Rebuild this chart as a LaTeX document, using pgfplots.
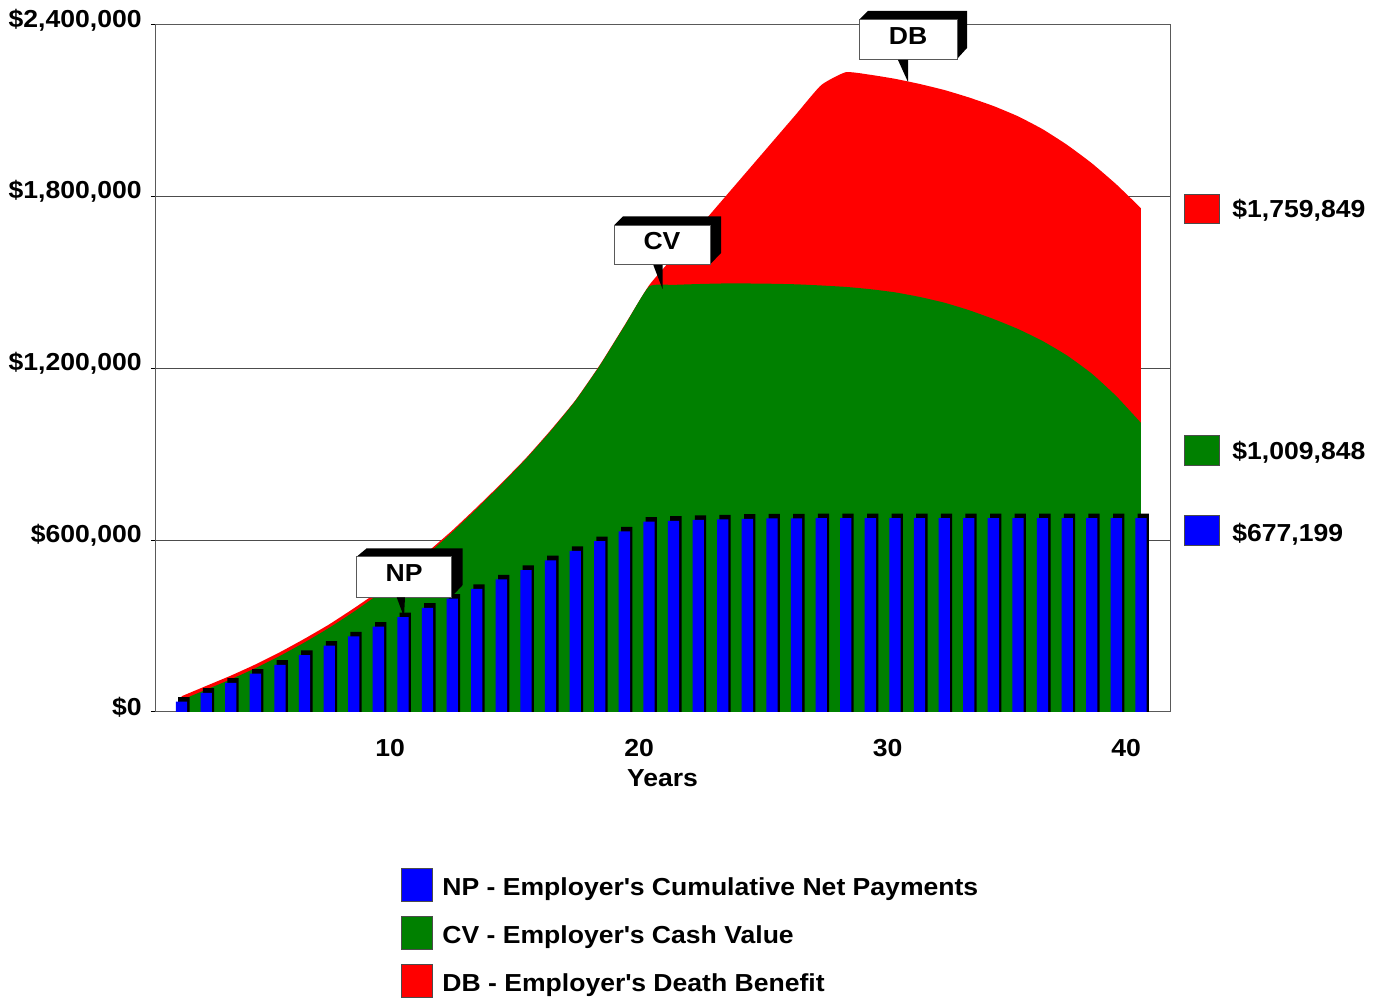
\documentclass[border=0pt]{standalone}
\usepackage{fontspec}
\setmainfont{Liberation Sans}[FakeStretch=1.08]
\usepackage{pgfplots}
\usepackage{pgfplotstable}
\pgfplotsset{compat=1.18}
\definecolor{npblue}{RGB}{0,0,255}
\definecolor{cvgreen}{RGB}{0,128,0}
\definecolor{dbred}{RGB}{255,0,0}
\pgfplotstableread{
yr np cv db
1 36000 42000 55000
2 67000 78000 91000
3 102000 114000 127000
4 134000 153000 166000
5 165000 196000 209000
6 199000 243000 256000
7 232000 294000 306000
8 264000 350000 362000
9 298000 411000 421000
10 331000 478000 487000
11 364000 551000 559000
12 396000 628000 634000
13 430000 710000 715000
14 463000 795000 799000
15 496000 884000 887000
16 530000 981000 984000
17 563000 1086000 1088000
18 597000 1210000 1212000
19 631000 1348000 1350000
20 665000 1486000 1490000
21 668000 1492000 1590000
22 671000 1495000 1690000
23 673000 1497000 1790000
24 675000 1497000 1890000
25 676000 1496000 1990000
26 676500 1494000 2090000
27 677000 1490000 2190000
28 677100 1485000 2235000
29 677100 1477000 2226000
30 677100 1466000 2212000
31 677100 1450000 2194000
32 677100 1430000 2173000
33 677100 1404000 2147000
34 677100 1373000 2117000
35 677100 1338000 2081000
36 677100 1296000 2036000
37 677100 1245000 1981000
38 677100 1182000 1917000
39 677100 1103000 1843000
40 677199 1009848 1759849
}\data
\begin{document}
\begin{tikzpicture}[font=\fontsize{12.3}{14}\selectfont\bfseries]
\useasboundingbox (0,0) rectangle (691.5pt,500pt);
\begin{axis}[
  at={(77.5pt,144pt)}, anchor=south west, scale only axis,
  width=507.5pt, height=343.5pt,
  xmin=-0.08, xmax=41.18, ymin=0, ymax=2400000,
  axis line style={gray!70!black, line width=0.5pt},
  xtick={9.48,19.6,29.7,39.4}, xticklabels={10,20,30,40},
  xtick style={draw=none},
  ytick={0,600000,1200000,1800000,2400000},
  yticklabels={{\$0},{\$600,000},{\$1,200,000},{\$1,800,000},{\$2,400,000}},
  scaled y ticks=false,
  ymajorgrids, grid style={gray!60!black, line width=0.5pt},
  ytick pos=left, tick align=outside, major tick length=2pt,
  ytick style={black, line width=0.5pt},
  xticklabel style={anchor=center, yshift=-16pt},
  yticklabel style={anchor=east, inner sep=0pt, xshift=-4.5pt, yshift=2.5pt},
  xlabel={Years},
  xlabel style={at={(axis description cs:0.5,0)}, anchor=center, yshift=-33pt},
]
\addplot[draw=none, fill=dbred, smooth, tension=0.3] table[x=yr, y=db]{\data} \closedcycle;
\addplot[draw=none, fill=cvgreen, smooth, tension=0.3] table[x=yr, y=cv]{\data} \closedcycle;
\addplot[ybar, bar width=5.65pt, bar shift=1.15pt, fill=black, draw=none]
  table[x=yr, y expr=\thisrow{np}+16000]{\data};
\addplot[ybar, bar width=5.65pt, bar shift=0pt, fill=npblue, draw=none]
  table[x=yr, y=np]{\data};
\end{axis}
\begin{scope}[x=0.5pt, y=-0.5pt, shift={(0pt,500pt)}]
  % NP callout
  \fill[black] (356.7,556.7) -- (366.7,548.3) -- (462.7,548.3) -- (462.7,585) -- (451.7,596.7) -- (451.7,556.7) -- cycle;
  \draw[gray!70!black, fill=white, line width=0.5pt] (356.7,556.7) rectangle (451.7,597.3);
  \node at (404.2,573) {NP};
  \fill[black] (396.7,597.3) -- (405,597.3) -- (404,617) -- cycle;
  % CV callout
  \fill[black] (614,225.5) -- (623,216.5) -- (721,216.5) -- (721,253) -- (710.5,264) -- (710.5,225.5) -- cycle;
  \draw[gray!70!black, fill=white, line width=0.5pt] (614,225.5) rectangle (710.5,265);
  \node at (662,241) {CV};
  \fill[black] (653.3,265) -- (662.7,265) -- (662.5,289) -- cycle;
  % DB callout
  \fill[black] (859,20) -- (868,11) -- (967,11) -- (967,48) -- (957,59) -- (957,20) -- cycle;
  \draw[gray!70!black, fill=white, line width=0.5pt] (859,20) rectangle (957,60);
  \node at (908,36) {DB};
  \fill[black] (898,60) -- (908,60) -- (908,82) -- cycle;
  % right value labels
  \draw[gray!60!black, fill=dbred, line width=0.5pt] (1184,195) rectangle (1219,224);
  \node[anchor=base west, inner sep=0pt] at (1232,217.3) {\$1,759,849};
  \draw[gray!60!black, fill=cvgreen, line width=0.5pt] (1184,436) rectangle (1219,466);
  \node[anchor=base west, inner sep=0pt] at (1232,460) {\$1,009,848};
  \draw[gray!60!black, fill=npblue, line width=0.5pt] (1184,516) rectangle (1219,546);
  \node[anchor=base west, inner sep=0pt] at (1232,541.7) {\$677,199};
  % legend
  \draw[gray!60!black, fill=npblue, line width=0.5pt] (401,869) rectangle (432,902);
  \node[anchor=base west, inner sep=0pt] at (442,896) {NP - Employer\textquotesingle s Cumulative Net Payments};
  \draw[gray!60!black, fill=cvgreen, line width=0.5pt] (401,917) rectangle (432,950);
  \node[anchor=base west, inner sep=0pt] at (442,944) {CV - Employer\textquotesingle s Cash Value};
  \draw[gray!60!black, fill=dbred, line width=0.5pt] (401,965) rectangle (432,998);
  \node[anchor=base west, inner sep=0pt] at (442,992) {DB - Employer\textquotesingle s Death Benefit};
\end{scope}
\end{tikzpicture}
\end{document}
